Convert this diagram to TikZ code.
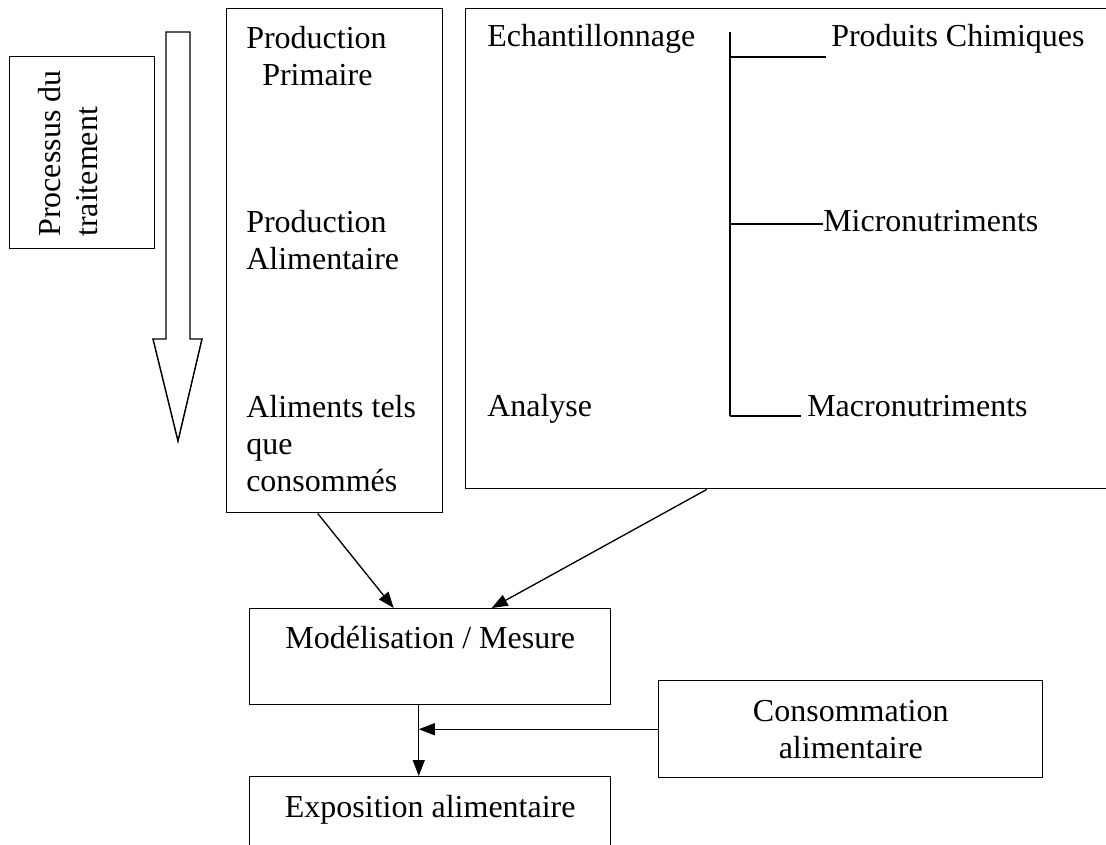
\documentclass[tikz,border=0pt]{standalone}
\usepackage{fontspec}
\setmainfont{Liberation Serif}
\usetikzlibrary{arrows.meta}
\begin{document}
\begin{tikzpicture}[x=0.75pt,y=-0.75pt,
  every node/.style={font=\fontsize{24pt}{27.75pt}\selectfont, inner sep=0pt},
  box/.style={draw, line width=1.1pt, rectangle, inner sep=0pt},
  txt/.style={anchor=base west, align=left},
  line/.style={line width=1.1pt},
  arr/.style={line width=1pt, -{Triangle[length=12pt,width=9pt]}}]
\useasboundingbox (0,0) rectangle (1106,845);

% Processus box and block arrow
\node[box, anchor=north west, minimum width=108.75pt, minimum height=144pt] (procbox) at (9,56) {};
\node[rotate=90, align=left, anchor=north west] (proctxt) at (38,237) {Processus du\\traitement};
\draw[line] (166,32) -- (190,32) -- (190,339) -- (202,339) -- (178,441) -- (153,339) -- (166,339) -- cycle;

% Left column box
\node[box, anchor=north west, minimum width=162pt, minimum height=378pt] (leftbox) at (226,8) {};
\node[txt] (prim) at (246,86) {Production\\\hspace{12pt}Primaire};
\node[txt] (alim) at (246,269) {Production\\Alimentaire};
\node[txt] (cons) at (246,491) {Aliments tels\\que\\consommés};

% Right box
\node[box, anchor=north west, minimum width=485.25pt, minimum height=360pt] (rightbox) at (465,8) {};
\node[txt] (echant) at (487,47) {Echantillonnage};
\node[txt] (analyse) at (487,416) {Analyse};
\node[txt] (chim) at (831,47) {Produits Chimiques};
\node[txt] (micro) at (823,231) {Micronutriments};
\node[txt] (macro) at (807,416) {Macronutriments};
\coordinate (btop) at (730,32);
\coordinate (b1) at (730,57);
\coordinate (b2) at (730,224);
\coordinate (b3) at (730,416);
\draw[line] (btop) -- (b3);
\draw[line] (b1) -- ++(96,0);
\draw[line] (b2) -- ++(93,0);
\draw[line] (b3) -- ++(71,0);

% Lower boxes
\node[box, anchor=north west, minimum width=270.75pt, text height=30pt, text depth=42pt] (modbox) at (249,608) {Modélisation / Mesure};
\node[box, anchor=north west, minimum width=288pt, minimum height=72.75pt, align=center] (consbox) at (658,680) {Consommation\\alimentaire};
\node[box, anchor=north west, minimum width=270.75pt, text height=30.75pt, text depth=45pt] (expbox) at (249,776) {Exposition alimentaire};

% Connectors
\draw[arr] ([xshift=-12.75pt]leftbox.south) -- ([xshift=-27.4pt]modbox.north);
\draw[arr] ([xshift=-61.9pt]rightbox.south) -- ([xshift=46.1pt]modbox.north);
\coordinate (mb) at ([xshift=-8.6pt]modbox.south);
\draw[arr] (mb) -- (mb |- expbox.north);
\draw[arr] (consbox.west) -- (mb |- consbox.west);
\end{tikzpicture}
\end{document}
